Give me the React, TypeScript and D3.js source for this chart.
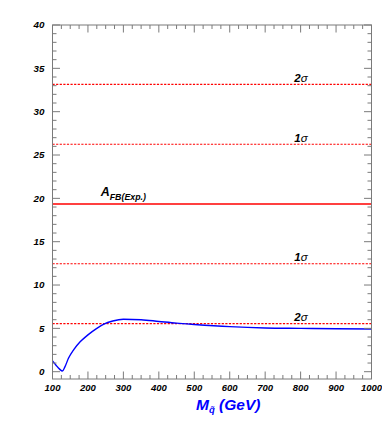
import React from 'react';
import * as d3 from 'd3';

const massValues = [100, 110, 120, 128, 135, 145, 160, 178, 200, 225, 245, 270, 300, 350, 400, 450, 500, 600, 700, 800, 900, 1000];
const afbValues = [1.25, 0.75, 0.3, 0.08, 0.55, 1.55, 2.55, 3.45, 4.25, 5.0, 5.5, 5.85, 6.05, 6.0, 5.8, 5.6, 5.45, 5.2, 5.05, 5.0, 4.95, 4.92];
const expCentral = 19.35;
const bandLevels = [33.15, 26.25, 12.45, 5.55];
const bandLabels = ['2', '1', '1', '2'];
const xTickLabels = [100, 200, 300, 400, 500, 600, 700, 800, 900, 1000];
const yTickLabels = [0, 5, 10, 15, 20, 25, 30, 35, 40];

const W = 382;
const H = 424;
const left = 52.5;
const right = 371.5;
const top = 25;
const bottom = 379;

export default function App() {
  const x = d3.scaleLinear().domain([100, 1000]).range([left, right]);
  const y = d3.scaleLinear().domain([0, 40]).range([371.7, top]);
  const yMin = y.invert(bottom);

  const minorX = d3.range(100, 1000.001, 25);
  const minorY = d3.range(0, 40.001, 1);

  const line = d3
    .line<number>()
    .x((_, i) => x(massValues[i]))
    .y((d) => y(d))
    .curve(d3.curveMonotoneX);

  const frame = '#7a7a7a';
  const font = "'Liberation Sans', Arial, sans-serif";
  const labelX = x(782);

  return (
    <svg
      width={W}
      height={H}
      style={{ position: 'absolute', left: 0, top: 0, display: 'block', background: '#fff' }}
      fontFamily={font}
    >
      <rect x={0} y={0} width={W} height={H} fill="#fff" />
      {/* horizontal reference lines */}
      {bandLevels.map((v, i) => (
        <line
          key={'b' + i}
          x1={left}
          x2={right}
          y1={y(v)}
          y2={y(v)}
          stroke="#ff0000"
          strokeWidth={1.1}
          strokeDasharray="2.2,1.4"
        />
      ))}
      <line x1={left} x2={right} y1={y(expCentral)} y2={y(expCentral)} stroke="#ff0000" strokeWidth={1.3} />

      {/* band labels */}
      {bandLevels.map((v, i) => (
        <text key={'bl' + i} x={labelX} y={y(v) - 2.6} fontSize={11.5} fontStyle="italic" fill="#000">
          <tspan fontWeight="bold">{bandLabels[i]}</tspan>
          <tspan>σ</tspan>
        </text>
      ))}
      <text x={x(236)} y={y(expCentral) - 8} fontSize={12.5} fontStyle="italic" fontWeight="bold" fill="#000">
        A
        <tspan fontSize={8.8} dy={4.3}>FB(Exp.)</tspan>
      </text>

      {/* curve */}
      <path d={line(afbValues) || ''} fill="none" stroke="#0000ff" strokeWidth={1.4} />

      {/* frame */}
      <rect x={left} y={top} width={right - left} height={bottom - top} fill="none" stroke={frame} strokeWidth={1} />

      {/* ticks */}
      {minorX.map((t) => {
        const major = t % 100 === 0;
        const len = major ? 7.5 : 4;
        return (
          <g key={'xt' + t}>
            <line x1={x(t)} x2={x(t)} y1={bottom} y2={bottom - len} stroke={frame} />
            <line x1={x(t)} x2={x(t)} y1={top} y2={top + len} stroke={frame} />
          </g>
        );
      })}
      {minorY.map((t) => {
        if (t < yMin) return null;
        const major = t % 5 === 0;
        const len = major ? 7.5 : 4;
        return (
          <g key={'yt' + t}>
            <line x1={left} x2={left + len} y1={y(t)} y2={y(t)} stroke={frame} />
            <line x1={right} x2={right - len} y1={y(t)} y2={y(t)} stroke={frame} />
          </g>
        );
      })}

      {/* tick labels */}
      {xTickLabels.map((t) => (
        <text
          key={'xl' + t}
          x={x(t)}
          y={390.5}
          textAnchor="middle"
          fontSize={9.5}
          fontWeight="bold"
          fontStyle="italic"
          fill="#000"
        >
          {t}
        </text>
      ))}
      {yTickLabels.map((t) => (
        <text
          key={'yl' + t}
          x={44.5}
          y={y(t) + 3.4}
          textAnchor="end"
          fontSize={9.8}
          fontWeight="bold"
          fontStyle="italic"
          fill="#000"
        >
          {t}
        </text>
      ))}

      {/* axis title */}
      <text x={196} y={410} fontSize={15.5} fontWeight="bold" fontStyle="italic" fill="#0000ff">
        M
        <tspan fontSize={9.5} dy={3}>q̃</tspan>
        <tspan dy={-3}> (GeV)</tspan>
      </text>
    </svg>
  );
}
